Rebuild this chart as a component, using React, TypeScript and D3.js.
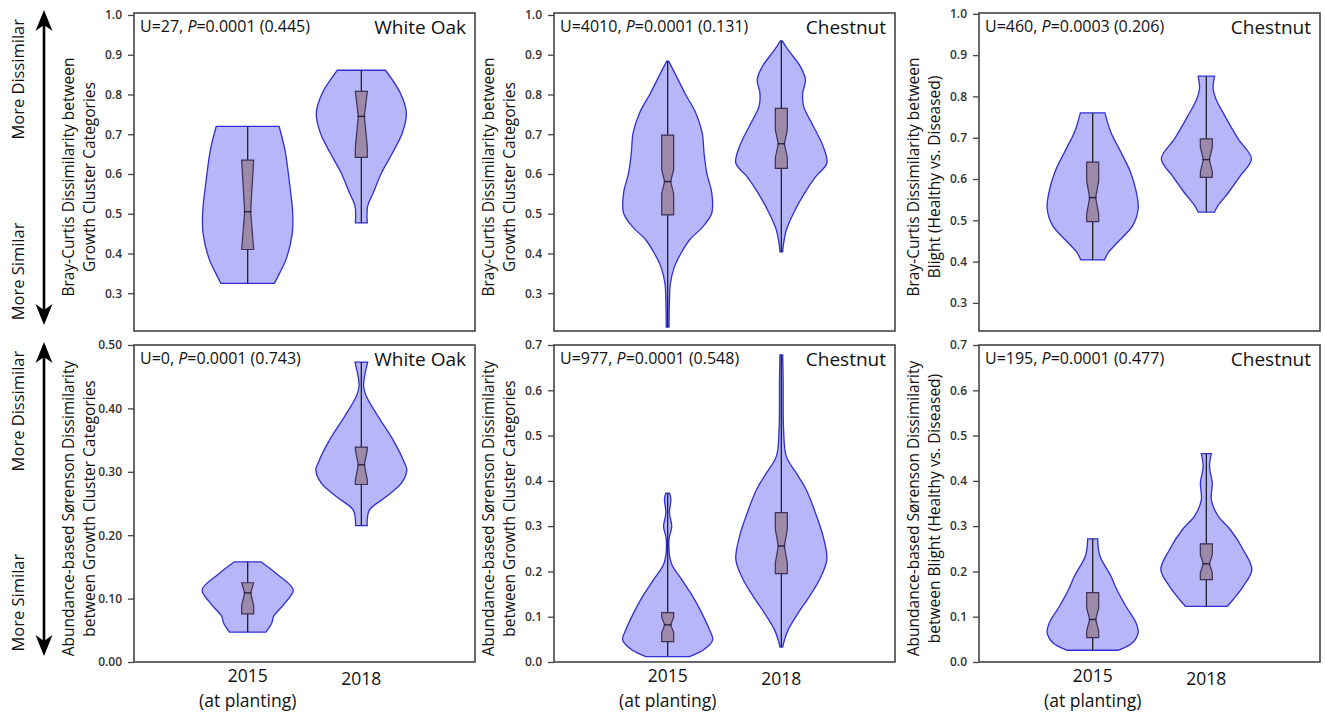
import React, { useEffect, useRef } from "react";
import * as d3 from "d3";

// categories
const years = ["2015", "2018"];
const yearNotes = ["(at planting)", ""];

// panel texts (row by row)
const species = ["White Oak", "Chestnut", "Chestnut", "White Oak", "Chestnut", "Chestnut"];
const uStats = ["27", "4010", "460", "0", "977", "195"];
const pStats = ["0.0001", "0.0001", "0.0003", "0.0001", "0.0001", "0.0001"];
const effectStats = ["0.445", "0.131", "0.206", "0.743", "0.548", "0.477"];
const yTitles = [
  ["Bray-Curtis Dissimilarity between", "Growth Cluster Categories"],
  ["Bray-Curtis Dissimilarity between", "Growth Cluster Categories"],
  ["Bray-Curtis Dissimilarity between", "Blight (Healthy vs. Diseased)"],
  ["Abundance-based Sørenson Dissimilarity", "between Growth Cluster Categories"],
  ["Abundance-based Sørenson Dissimilarity", "between Growth Cluster Categories"],
  ["Abundance-based Sørenson Dissimilarity", "between Blight (Healthy vs. Diseased)"],
];

// y axes
const yDomains = [[0.205, 1.005], [0.205, 1.005], [0.232, 1.002], [0, 0.5], [0, 0.7], [0, 0.7]];
const brayTicks = [0.3, 0.4, 0.5, 0.6, 0.7, 0.8, 0.9, 1.0];
const oakSorTicks = [0, 0.1, 0.2, 0.3, 0.4, 0.5];
const chestSorTicks = [0, 0.1, 0.2, 0.3, 0.4, 0.5, 0.6, 0.7];
const yTicks = [brayTicks, brayTicks, brayTicks, oakSorTicks, chestSorTicks, chestSorTicks];
const yFormats = [".1f", ".1f", ".1f", ".2f", ".1f", ".1f"];

// violin profiles: [value, relative density]
const oakBray2015 = [[0.72, 0.69], [0.66, 0.82], [0.577, 0.92], [0.502, 0.99], [0.45, 0.98], [0.384, 0.84], [0.35, 0.7], [0.325, 0.59]];
const oakBray2018 = [[0.861, 0.53], [0.803, 0.86], [0.753, 0.99], [0.703, 0.9], [0.652, 0.68], [0.602, 0.44], [0.552, 0.26], [0.52, 0.14], [0.477, 0.13]];
const chestBray2015 = [[0.884, 0.02], [0.853, 0.16], [0.803, 0.38], [0.753, 0.62], [0.703, 0.76], [0.652, 0.8], [0.602, 0.86], [0.552, 0.97], [0.502, 0.97], [0.467, 0.77], [0.434, 0.48], [0.4, 0.29], [0.367, 0.15], [0.325, 0.06], [0.283, 0.04], [0.215, 0.03]];
const chestBray2018 = [[0.935, 0.02], [0.912, 0.15], [0.87, 0.42], [0.837, 0.53], [0.803, 0.47], [0.77, 0.49], [0.719, 0.71], [0.669, 0.92], [0.627, 1.0], [0.593, 0.75], [0.552, 0.51], [0.502, 0.27], [0.459, 0.11], [0.417, 0.04], [0.404, 0.03]];
const blightBray2015 = [[0.76, 0.27], [0.713, 0.4], [0.665, 0.62], [0.617, 0.83], [0.568, 0.96], [0.528, 1.0], [0.487, 0.88], [0.447, 0.55], [0.423, 0.35], [0.404, 0.26]];
const blightBray2018 = [[0.849, 0.18], [0.818, 0.15], [0.794, 0.21], [0.754, 0.4], [0.697, 0.7], [0.649, 0.99], [0.608, 0.75], [0.568, 0.49], [0.536, 0.26], [0.52, 0.18]];
const oakSor2015 = [[0.158, 0.29], [0.14, 0.62], [0.114, 1.0], [0.093, 0.82], [0.072, 0.57], [0.0615, 0.53], [0.047, 0.4]];
const oakSor2018 = [[0.473, 0.14], [0.45, 0.07], [0.435, 0.05], [0.419, 0.11], [0.387, 0.37], [0.35, 0.7], [0.314, 0.95], [0.303, 1.0], [0.282, 0.88], [0.261, 0.55], [0.24, 0.18], [0.224, 0.13], [0.215, 0.13]];
const chestSor2015 = [[0.373, 0.04], [0.36, 0.07], [0.329, 0.04], [0.299, 0.09], [0.27, 0.03], [0.218, 0.08], [0.182, 0.31], [0.145, 0.55], [0.108, 0.75], [0.071, 0.92], [0.049, 0.99], [0.027, 0.79], [0.012, 0.48]];
const chestSor2018 = [[0.678, 0.03], [0.623, 0.04], [0.512, 0.05], [0.454, 0.11], [0.417, 0.33], [0.38, 0.55], [0.329, 0.75], [0.277, 0.92], [0.226, 1.0], [0.182, 0.84], [0.145, 0.62], [0.108, 0.37], [0.071, 0.15], [0.049, 0.07], [0.033, 0.03]];
const blightSor2015 = [[0.272, 0.11], [0.234, 0.16], [0.19, 0.4], [0.16, 0.53], [0.123, 0.73], [0.087, 0.95], [0.065, 1.0], [0.043, 0.88], [0.026, 0.57]];
const blightSor2018 = [[0.46, 0.11], [0.432, 0.07], [0.395, 0.13], [0.358, 0.11], [0.322, 0.26], [0.292, 0.53], [0.248, 0.81], [0.204, 1.0], [0.167, 0.81], [0.138, 0.59], [0.123, 0.46]];

// boxes: [q1, median, q3, notch half-length]
const oakBrayBox = [[0.41, 0.505, 0.635, 0.13], [0.642, 0.745, 0.808, 0.078]];
const chestBrayBox = [[0.497, 0.581, 0.698, 0.03], [0.614, 0.676, 0.765, 0.035]];
const blightBrayBox = [[0.497, 0.555, 0.641, 0.04], [0.604, 0.647, 0.697, 0.03]];
const oakSorBox = [[0.076, 0.109, 0.125, 0.02], [0.28, 0.311, 0.339, 0.024]];
const chestSorBox = [[0.045, 0.082, 0.109, 0.017], [0.195, 0.256, 0.33, 0.037]];
const blightSorBox = [[0.054, 0.094, 0.153, 0.025], [0.182, 0.217, 0.261, 0.02]];

const violins = [
  [oakBray2015, oakBray2018], [chestBray2015, chestBray2018], [blightBray2015, blightBray2018],
  [oakSor2015, oakSor2018], [chestSor2015, chestSor2018], [blightSor2015, blightSor2018],
];
const boxes = [oakBrayBox, chestBrayBox, blightBrayBox, oakSorBox, chestSorBox, blightSorBox];

const arrowLabels = ["More Dissimilar", "More Similar"];

const colX = [[134, 475], [554, 895], [979, 1320]];
const rowY = [[13, 331], [345, 662]];
const FONT = "'Open Sans', sans-serif";

export default function App() {
  const ref = useRef<SVGSVGElement>(null);

  useEffect(() => {
    const svg = d3.select(ref.current);
    svg.selectAll("*").remove();

    const halfW = d3.scaleLinear().domain([0, 1]).range([0, 45.5]);

    violins.forEach((pair, i) => {
      const row = Math.floor(i / 3);
      const col = i % 3;
      const [x0, x1] = colX[col];
      const [y0, y1] = rowY[row];
      const x = d3.scalePoint().domain(years).range([x0, x1]).padding(1);
      const y = d3.scaleLinear().domain(yDomains[i]).range([y1, y0]);
      const g = svg.append("g");

      // y axis
      const axis = d3.axisLeft(y)
        .tickValues(yTicks[i])
        .tickFormat(d3.format(yFormats[i]))
        .tickSize(6)
        .tickPadding(6);
      const ag = g.append("g").attr("transform", `translate(${x0},0)`).call(axis);
      ag.select(".domain").remove();
      ag.selectAll("line").attr("stroke", "#444").attr("stroke-width", 1.3);
      ag.selectAll("text")
        .attr("font-family", FONT)
        .attr("font-size", 12)
        .attr("font-weight", 600)
        .attr("fill", "#333");

      // violins, whiskers, boxes
      pair.forEach((prof, j) => {
        const cx = x(years[j]) as number;
        const area = d3.area<number[]>()
          .curve(d3.curveCatmullRom.alpha(0.5))
          .y(d => y(d[0]))
          .x0(d => cx - halfW(d[1]))
          .x1(d => cx + halfW(d[1]));
        g.append("path")
          .attr("d", area(prof))
          .attr("fill", "#b6b6f8")
          .attr("stroke", "#3030d0")
          .attr("stroke-width", 1.3);

        const vmax = prof[0][0];
        const vmin = prof[prof.length - 1][0];
        g.append("line")
          .attr("x1", cx).attr("x2", cx)
          .attr("y1", y(vmax)).attr("y2", y(vmin))
          .attr("stroke", "#222")
          .attr("stroke-width", 1.3);

        const [q1, med, q3, notch] = boxes[i][j];
        const nHi = Math.min(q3, med + notch);
        const nLo = Math.max(q1, med - notch);
        const bw = 6, wst = 3;
        const pts: [number, number][] = [
          [cx - bw, y(q3)], [cx + bw, y(q3)], [cx + bw, y(nHi)], [cx + wst, y(med)],
          [cx + bw, y(nLo)], [cx + bw, y(q1)], [cx - bw, y(q1)], [cx - bw, y(nLo)],
          [cx - wst, y(med)], [cx - bw, y(nHi)],
        ];
        g.append("path")
          .attr("d", d3.line()(pts) + "Z")
          .attr("fill", "#9d89a8")
          .attr("stroke", "#3b3159")
          .attr("stroke-width", 1.2);
        g.append("line")
          .attr("x1", cx - wst - 1).attr("x2", cx + wst + 1)
          .attr("y1", y(med)).attr("y2", y(med))
          .attr("stroke", "#2a2240")
          .attr("stroke-width", 1.4);
      });

      // frame
      g.append("rect")
        .attr("x", x0).attr("y", y0)
        .attr("width", x1 - x0).attr("height", y1 - y0)
        .attr("fill", "none")
        .attr("stroke", "#444")
        .attr("stroke-width", 1.6);

      // stats + species
      const st = g.append("text")
        .attr("x", x0 + 6).attr("y", y0 + 19)
        .attr("font-family", FONT).attr("font-size", 16).attr("fill", "#111");
      st.append("tspan").text(`U=${uStats[i]}, `);
      st.append("tspan").attr("font-style", "italic").text("P");
      st.append("tspan").text(`=${pStats[i]} (${effectStats[i]})`);
      g.append("text")
        .attr("x", x1 - 9).attr("y", y0 + 21)
        .attr("text-anchor", "end")
        .attr("font-family", FONT).attr("font-size", 19).attr("fill", "#111")
        .text(species[i]);

      // y title
      const cy = (y0 + y1) / 2 + 5;
      yTitles[i].forEach((t, k) => {
        const tx = x0 - 66 + k * 21.5 + 5.5;
        g.append("text")
          .attr("transform", `translate(${tx},${cy}) rotate(-90)`)
          .attr("text-anchor", "middle")
          .attr("font-family", FONT).attr("font-size", 15.5).attr("fill", "#111")
          .text(t);
      });

      // x labels (bottom row)
      if (row === 1) {
        years.forEach((yr, j) => {
          const cx = x(yr) as number;
          g.append("text")
            .attr("x", cx).attr("y", y1 + 20 + j * 3)
            .attr("text-anchor", "middle")
            .attr("font-family", FONT).attr("font-size", 17.5).attr("fill", "#111")
            .text(yr);
          if (yearNotes[j]) {
            g.append("text")
              .attr("x", cx).attr("y", y1 + 45)
              .attr("text-anchor", "middle")
              .attr("font-family", FONT).attr("font-size", 17.5).attr("fill", "#111")
              .text(yearNotes[j]);
          }
        });
      }
    });

    // direction arrows on the left
    rowY.forEach(([y0, y1]) => {
      const ax = 44;
      const top = y0 - 3;
      const bot = y1 - 6;
      const g = svg.append("g");
      g.append("line")
        .attr("x1", ax).attr("x2", ax)
        .attr("y1", top + 12).attr("y2", bot - 12)
        .attr("stroke", "#000").attr("stroke-width", 2.6);
      const head = (tip: number, dir: number) =>
        `M${ax},${tip} L${ax + 8.5},${tip + dir * 21} L${ax},${tip + dir * 15} L${ax - 8.5},${tip + dir * 21} Z`;
      g.append("path").attr("d", head(top, 1)).attr("fill", "#000");
      g.append("path").attr("d", head(bot, -1)).attr("fill", "#000");
      const span = bot - top;
      [top + span * 0.22, top + span * 0.83].forEach((cy, k) => {
        g.append("text")
          .attr("transform", `translate(${24},${cy}) rotate(-90)`)
          .attr("text-anchor", "middle")
          .attr("font-family", FONT).attr("font-size", 16.5).attr("fill", "#111")
          .text(arrowLabels[k]);
      });
    });
  }, []);

  return (
    <svg
      ref={ref}
      width={1325}
      height={714}
      style={{ position: "absolute", left: 0, top: 0, background: "#fff" }}
    />
  );
}
